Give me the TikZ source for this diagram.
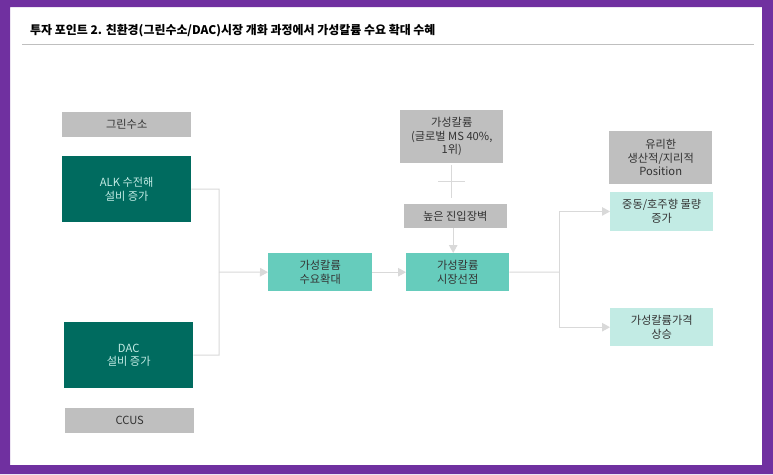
\documentclass[tikz,border=0pt]{standalone}
\usepackage{fontspec}
\setmainfont{Noto Sans CJK KR}
\usetikzlibrary{arrows.meta}
\definecolor{frameP}{HTML}{7030A0}
\definecolor{greyB}{HTML}{BFBFBF}
\definecolor{darkG}{HTML}{006B5F}
\definecolor{midG}{HTML}{66CCBC}
\definecolor{lightG}{HTML}{C2EBE4}
\definecolor{lineG}{HTML}{D9D9D9}
\definecolor{txt}{HTML}{333333}
\tikzset{
  every node/.style={font=\fontsize{11.2pt}{13.6pt}\selectfont},
  boxbase/.style={anchor=north west,inner sep=0pt,align=center,text=txt},
  greybox/.style={boxbase,fill=greyB},
  darkbox/.style={boxbase,fill=darkG,text=lightG},
  midbox/.style={boxbase,fill=midG},
  lightbox/.style={boxbase,fill=lightG},
  conn/.style={draw=lineG,line width=1pt},
  arr/.style={conn,-{Triangle[length=8pt,width=8.5pt,fill=lineG]}}
}
\newcommand{\bx}[7]{\node[#1,minimum width=#4 pt,minimum height=#5 pt] (#2) at (#3) {#6};}
\begin{document}
\begin{tikzpicture}[x=1pt,y=-1pt]
\useasboundingbox (0,0) rectangle (773,474);
\fill[white] (0,0) rectangle (773,474);
\fill[frameP,even odd rule] (0,0) rectangle (773,474) (10,7) rectangle (762,465);
\node[anchor=west,inner sep=0pt,text=black,font=\fontsize{11.95pt}{14pt}\selectfont\bfseries] (title) at (30,31) {투자 포인트 2. 친환경(그린수소/DAC)시장 개화 과정에서 가성칼륨 수요 확대 수혜};
\coordinate (ruleL) at (22,44);
\coordinate (ruleR) at (754,44);
\draw[greyB,line width=0.8pt] (ruleL) -- (ruleR);

\bx{greybox}{h2}{62,112}{129}{25}{그린수소}{}
\bx{darkbox}{alk}{62,156}{129}{66}{ALK 수전해\\설비 증가}{}
\bx{darkbox}{dac}{64,322}{129}{66}{DAC\\설비 증가}{}
\bx{greybox}{ccus}{65,408}{129}{25}{CCUS}{}
\bx{midbox}{demand}{268,253}{104}{38}{가성칼륨\\수요확대}{}
\bx{midbox}{market}{406,253}{103}{38}{가성칼륨\\시장선점}{}
\bx{greybox}{share}{400,110}{103}{53}{가성칼륨\\(글로벌 MS 40\%,\\1위)}{}
\bx{greybox}{barrier}{403.5,204}{103}{24}{높은 진입장벽}{}
\bx{greybox}{pos}{609,131}{103}{53}{유리한\\생산적/지리적\\Position}{}
\bx{lightbox}{vol}{610,192}{103}{38.5}{중동/호주향 물량\\증가}{}
\bx{lightbox}{price}{610,308}{103}{38}{가성칼륨가격\\상승}{}

\coordinate (jl) at (219,272);
\coordinate (jr) at (559,272);
\coordinate (plusC) at (451.5,181);
\draw[conn] (alk.east) -- (219,189) -- (jl);
\draw[conn] (dac.east) -- (219,355) -- (jl);
\draw[arr] (jl) -- (demand.west);
\draw[arr] (demand.east) -- (market.west);
\draw[conn] (market.east) -- (jr);
\draw[arr] (jr) |- (vol.west);
\draw[arr] (jr) |- (price.west);
\draw[arr] ([xshift=-2pt]barrier.south) -- ([xshift=-4.5pt]market.north);
\draw[conn] (plusC) ++(0,-16) -- ++(0,33);
\draw[conn] (plusC) ++(-13.5,0) -- ++(27,0);
\end{tikzpicture}
\end{document}
